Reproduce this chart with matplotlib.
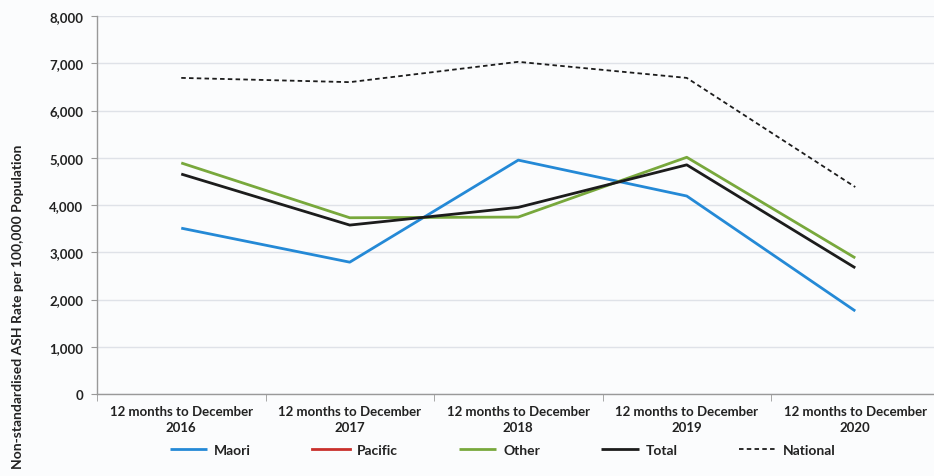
import numpy as np
import matplotlib
matplotlib.use("Agg")
import matplotlib.pyplot as plt
from matplotlib import font_manager

periods = ["12 months to December\n2016", "12 months to December\n2017",
           "12 months to December\n2018", "12 months to December\n2019",
           "12 months to December\n2020"]
maori = [3510, 2790, 4950, 4190, 1757]
pacific = [np.nan, np.nan, np.nan, np.nan, np.nan]
other = [4890, 3730, 3745, 5010, 2880]
total = [4655, 3575, 3950, 4850, 2670]
national = [6690, 6600, 7030, 6690, 4380]
y_ticks = [0, 1000, 2000, 3000, 4000, 5000, 6000, 7000, 8000]

names = {f.name for f in font_manager.fontManager.ttflist}
family = "Liberation Sans Narrow" if "Liberation Sans Narrow" in names else "Lato"
plt.rcParams["font.family"] = [family, "DejaVu Sans"]

W, H = 934, 477
fig = plt.figure(figsize=(W / 100, H / 100), dpi=100)
fig.patch.set_facecolor("#fbfcfd")
ax = fig.add_axes([97 / W, 1 - 395 / H, 842.5 / W, 378 / H])
ax.set_facecolor("#fbfcfd")

x = np.arange(len(periods))
ax.plot(x, maori, color="#2489d6", lw=2.0, label="Maori", solid_capstyle="butt")
ax.plot(x, pacific, color="#c9302c", lw=2.0, label="Pacific")
ax.plot(x, other, color="#78a83c", lw=2.0, label="Other", solid_capstyle="butt")
ax.plot(x, total, color="#1c1c1c", lw=2.0, label="Total", solid_capstyle="butt")
ax.plot(x, national, color="#1c1c1c", lw=1.3, ls=(0, (2.5, 1.8)), label="National")

ax.set_xlim(-0.5, len(periods) - 0.5)
ax.set_ylim(0, 8000)
ax.set_yticks(y_ticks)
ax.set_yticklabels([f"{v:,}" for v in y_ticks], fontsize=9.5, fontweight="bold",
                   color="#222222")
ax.set_xticks(x)
ax.set_xticklabels(periods, fontsize=9.5, fontweight="bold", color="#222222",
                   linespacing=1.35)
ax.tick_params(axis="x", length=0, pad=8)
ax.set_xticks(np.arange(-0.5, len(periods)), minor=True)
ax.tick_params(axis="x", which="minor", length=5, color="#999999")
ax.tick_params(axis="y", length=4, color="#999999", pad=6)

ax.grid(axis="y", color="#dfe2e8", lw=1.0)
ax.set_axisbelow(True)
for side in ("top", "right"):
    ax.spines[side].set_visible(False)
for side in ("left", "bottom"):
    ax.spines[side].set_color("#999999")
    ax.spines[side].set_linewidth(1.0)

fig.text(18 / W, 1 - 307 / H, "Non-standardised ASH Rate per 100,000 Population",
         rotation=90, ha="center", va="center", fontsize=10, fontweight="bold",
         color="#222222")

handles, labels = ax.get_legend_handles_labels()
leg = fig.legend(handles, labels, loc="center", bbox_to_anchor=(503 / W, 1 - 451 / H),
                 ncol=5, frameon=False, fontsize=10, handlelength=2.7,
                 columnspacing=4.4, handletextpad=0.5)
for t in leg.get_texts():
    t.set_fontweight("bold")
    t.set_color("#222222")

fig.savefig("out.png", dpi=100, facecolor=fig.get_facecolor())
